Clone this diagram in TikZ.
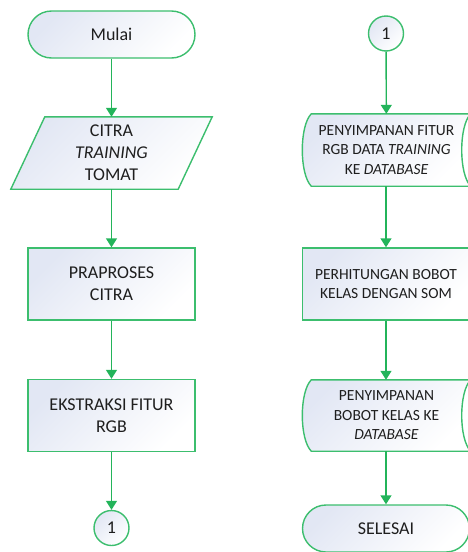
\documentclass[tikz,border=0pt]{standalone}
\usepackage{fontspec}
\setmainfont{Carlito}
\usetikzlibrary{arrows.meta,calc,backgrounds}
\definecolor{fgreen}{RGB}{60,190,110}
\definecolor{agreen}{RGB}{35,180,90}
\definecolor{fillc}{RGB}{226,231,244}
\definecolor{txt}{RGB}{30,30,30}
\tikzset{
  shadefill/.style={top color=fillc, bottom color=white, shading angle=45},
  outline/.style={draw=fgreen, line width=1.4pt},
  flow/.style={outline, shadefill, text=txt, align=center, inner sep=0pt,
    font=\fontsize{18}{22}\selectfont},
  txtonly/.style={text=txt, align=center, inner sep=0pt},
  bigtxt/.style={font=\fontsize{18}{22}\selectfont},
  smalltxt/.style={font=\fontsize{15.5}{19.5}\selectfont},
  term/.style={flow, rounded corners=23.5pt, minimum width=167pt, minimum height=47pt},
  procbox/.style={flow, minimum width=167pt, minimum height=72pt},
  conn/.style={flow, circle, minimum size=35pt},
  arr/.style={draw=agreen, line width=1.4pt, -{Triangle[width=11pt,length=9pt]}}
}
\begin{document}
\begin{tikzpicture}[x=1pt,y=-1pt]
\useasboundingbox (0,0) rectangle (468,552);
\clip (0,0) rectangle (468,552);
% left column
\node[term] (mulai) at (111.5,34.5) {Mulai};
\node[txtonly, bigtxt, minimum width=167pt, minimum height=72pt] (citra) at (111.5,153) {CITRA\\\textit{TRAINING}\\TOMAT};
\node[procbox] (pra) at (111.5,284) {PRAPROSES\\CITRA};
\node[procbox] (eks) at (111.5,415.5) {EKSTRAKSI FITUR\\RGB};
\node[conn] (c1) at (111.5,528) {1};
% right column
\node[conn] (c2) at (386,33.5) {1};
\node[txtonly, smalltxt, minimum width=168pt, minimum height=72pt] (simpan1) at (386.5,150) {PENYIMPANAN FITUR\\RGB DATA \textit{TRAINING}\\KE \textit{DATABASE}};
\node[procbox, smalltxt] (hitung) at (386,284) {PERHITUNGAN BOBOT\\KELAS DENGAN SOM};
\node[txtonly, smalltxt, minimum width=168pt, minimum height=71pt] (simpan2) at (386.5,415.5) {PENYIMPANAN\\BOBOT KELAS KE\\\textit{DATABASE}};
\node[term] (selesai) at (386,528.5) {SELESAI};
% custom shapes
\begin{scope}[on background layer]
\path[outline, shadefill] ($(citra.north west)+(17,0)$) -- ($(citra.north east)+(17,0)$)
  -- ($(citra.south east)+(-17,0)$) -- ($(citra.south west)+(-17,0)$) -- cycle;
\foreach \s in {simpan1,simpan2}{
\path[outline, shadefill] ($(\s.north west)+(9,0)$) -- (\s.north east)
  .. controls ($(\s.north east)+(-12,12)$) and ($(\s.south east)+(-12,-12)$) .. (\s.south east)
  -- ($(\s.south west)+(9,0)$)
  .. controls ($(\s.south west)+(-3,-12)$) and ($(\s.north west)+(-3,12)$) .. ($(\s.north west)+(9,0)$) -- cycle;
}
\end{scope}
% connectors
\draw[arr] (mulai) -- (citra);
\draw[arr] (citra) -- (pra);
\draw[arr] (pra) -- (eks);
\draw[arr] (eks) -- (c1);
\draw[arr] (c2) -- (simpan1);
\draw[arr] (simpan1.south -| hitung.north) -- (hitung);
\draw[arr] (hitung) -- (simpan2.north -| hitung.north);
\draw[arr] (simpan2.south -| selesai.north) -- (selesai);
\end{tikzpicture}
\end{document}
